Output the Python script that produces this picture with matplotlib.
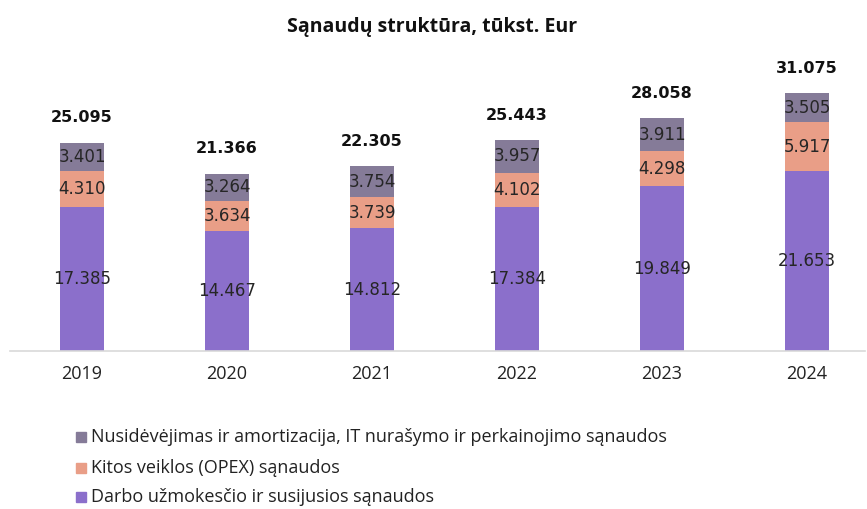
import matplotlib.pyplot as plt
import numpy as np
from matplotlib.patches import Rectangle
from matplotlib import font_manager

years = ['2019', '2020', '2021', '2022', '2023', '2024']
darbo = [17.385, 14.467, 14.812, 17.384, 19.849, 21.653]
opex = [4.310, 3.634, 3.739, 4.102, 4.298, 5.917]
amort = [3.401, 3.264, 3.754, 3.957, 3.911, 3.505]
totals = ['25.095', '21.366', '22.305', '25.443', '28.058', '31.075']

names = ['Nusidėvėjimas ir amortizacija, IT nurašymo ir perkainojimo sąnaudos',
         'Kitos veiklos (OPEX) sąnaudos',
         'Darbo užmokesčio ir susijusios sąnaudos']
colors = ['#857B98', '#E99E87', '#8B6FCB']

installed = {f.name for f in font_manager.fontManager.ttflist}
narrow = [f for f in ['Liberation Sans Narrow', 'Open Sans', 'DejaVu Sans'] if f in installed]


def fmt(v):
    return f'{v:.3f}'


W, H = 867, 509
fig = plt.figure(figsize=(W / 100, H / 100), dpi=100)
ax = fig.add_axes([9.5 / W, (H - 351) / H, 855.5 / W, 290 / H])
ax.set_xlim(-0.5, 5.4)
ax.set_ylim(0, 290 / 8.29)

x = np.arange(len(years))
bw = 0.31
bottoms = np.zeros(len(years))
for vals, col in [(darbo, colors[2]), (opex, colors[1]), (amort, colors[0])]:
    ax.bar(x, vals, bw, bottom=bottoms, color=col)
    for xi, b, v in zip(x, bottoms, vals):
        ax.text(xi, b + v / 2, fmt(v), ha='center', va='center', fontsize=12,
                color='#262626', family='DejaVu Sans')
    bottoms = bottoms + np.array(vals)

for xi, top, t in zip(x, bottoms, totals):
    ax.annotate(t, (xi, top), xytext=(0, 18), textcoords='offset points',
                ha='center', va='center', fontsize=11.5, fontweight='bold',
                family='DejaVu Sans', color='#111111')

for s in ['top', 'right', 'left']:
    ax.spines[s].set_visible(False)
ax.spines['bottom'].set_color('#D9D9D9')
ax.spines['bottom'].set_linewidth(1.2)
ax.set_yticks([])
ax.set_xticks(x)
ax.set_xticklabels(years, fontsize=13, family=narrow, color='#222222')
ax.tick_params(axis='x', length=0, pad=10)

fig.text(432 / W, 1 - 27 / H, 'Sąnaudų struktūra, tūkst. Eur', ha='center', va='center',
         fontsize=14, fontweight='bold', family=narrow, color='#111111')

leg_y = [437, 468, 497]
for name, col, yy in zip(names, colors, leg_y):
    fig.patches.append(Rectangle((76 / W, 1 - (yy + 5) / H), 10 / W, 10 / H,
                                 transform=fig.transFigure, color=col))
    fig.text(91 / W, 1 - yy / H, name, ha='left', va='center', fontsize=13,
             family=narrow, color='#222222')

fig.savefig('out.png', dpi=100)
